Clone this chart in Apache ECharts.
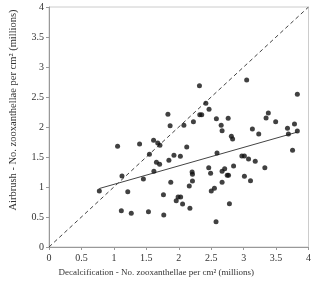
<!DOCTYPE html>
<html><head><meta charset="utf-8">
<script src="https://cdn.jsdelivr.net/npm/echarts@6/dist/echarts.min.js"></script>
<style>html,body{margin:0;padding:0;background:#fff}#c{width:314px;height:282px}</style>
</head><body><div id="c"></div>
<script>
const xTicks = [0, 0.5, 1, 1.5, 2, 2.5, 3, 3.5, 4];
const yTicks = [0, 0.5, 1, 1.5, 2, 2.5, 3, 3.5, 4];
const decalX = [0.776,1.057,1.125,1.115,1.214,1.268,1.396,1.455,1.533,1.548,1.612,1.617,1.656,1.676,1.705,1.710,1.764,1.769,1.833,1.848,1.867,1.877,1.926,1.961,1.990,2.029,2.025,2.059,2.079,2.123,2.162,2.172,2.206,2.211,2.211,2.226,2.319,2.324,2.354,2.418,2.462,2.467,2.491,2.501,2.550,2.580,2.590,2.575,2.654,2.668,2.668,2.668,2.708,2.747,2.762,2.767,2.781,2.811,2.830,2.845,2.973,3.012,3.012,3.047,3.076,3.106,3.135,3.179,3.233,3.327,3.346,3.381,3.494,3.676,3.690,3.754,3.784,3.828,3.828];
const airbrushY = [0.933,1.678,1.183,0.606,0.922,0.561,1.717,1.133,0.589,1.544,1.778,1.261,1.411,1.733,1.378,1.694,0.872,0.533,2.211,1.444,2.022,1.078,1.528,0.772,0.833,0.833,1.511,0.717,2.028,1.667,1.017,0.644,1.250,1.211,1.100,2.089,2.689,2.206,2.206,2.394,1.322,2.294,1.228,0.933,0.978,2.139,1.567,0.422,2.028,1.939,1.261,1.078,1.306,1.194,2.144,1.194,0.722,1.844,1.800,1.350,1.517,1.517,1.178,2.783,1.467,1.106,1.967,1.428,1.883,1.322,2.150,2.233,2.089,1.978,1.883,1.611,2.050,1.933,2.544];
const regLine = [[0.776, 0.975], [3.828, 1.915]];
const oneToOne = [[0, 0], [4, 4]];
const xTitle = 'Decalcification - No. zooxanthellae per cm² (millions)';
const yTitle = 'Airbrush - No. zooxanthellae per cm² (millions)';

const font = '"Liberation Serif", "Times New Roman", serif';
const chart = echarts.init(document.getElementById('c'));
const axisCommon = {
  min: 0, max: 4, interval: 0.5,
  axisLine: {show: true, lineStyle: {color: '#999', width: 1}},
  axisTick: {show: true, length: 3, lineStyle: {color: '#999'}},
  splitLine: {show: false},
  axisLabel: {fontFamily: font, fontSize: 10, color: '#333', formatter: v => String(v)},
  nameLocation: 'middle'
};
chart.setOption({
  animation: false,
  grid: {left: 39, right: 3, top: 7, bottom: 35, show: true, borderColor: '#ccc', borderWidth: 1},
  xAxis: Object.assign({}, axisCommon, {
    type: 'value', name: xTitle, nameGap: 21,
    nameTextStyle: {fontFamily: font, fontSize: 9, color: '#333', padding: [0, 45, 0, 0]},
    axisLabel: Object.assign({}, axisCommon.axisLabel, {margin: 6})
  }),
  yAxis: Object.assign({}, axisCommon, {
    type: 'value', name: yTitle, nameGap: 30,
    nameTextStyle: {fontFamily: font, fontSize: 10.5, color: '#333', padding: [0, 0, 0, 34]},
    axisLabel: Object.assign({}, axisCommon.axisLabel, {margin: 5})
  }),
  series: [
    {type: 'line', data: oneToOne, symbol: 'none', lineStyle: {color: '#444', width: 1, type: [4, 3]}, z: 1},
    {type: 'line', data: regLine, symbol: 'none', lineStyle: {color: '#444', width: 1}, z: 2},
    {type: 'scatter', data: decalX.map((x, i) => [x, airbrushY[i]]), symbolSize: 5, itemStyle: {color: '#111'}, z: 3}
  ]
});
</script></body></html>
